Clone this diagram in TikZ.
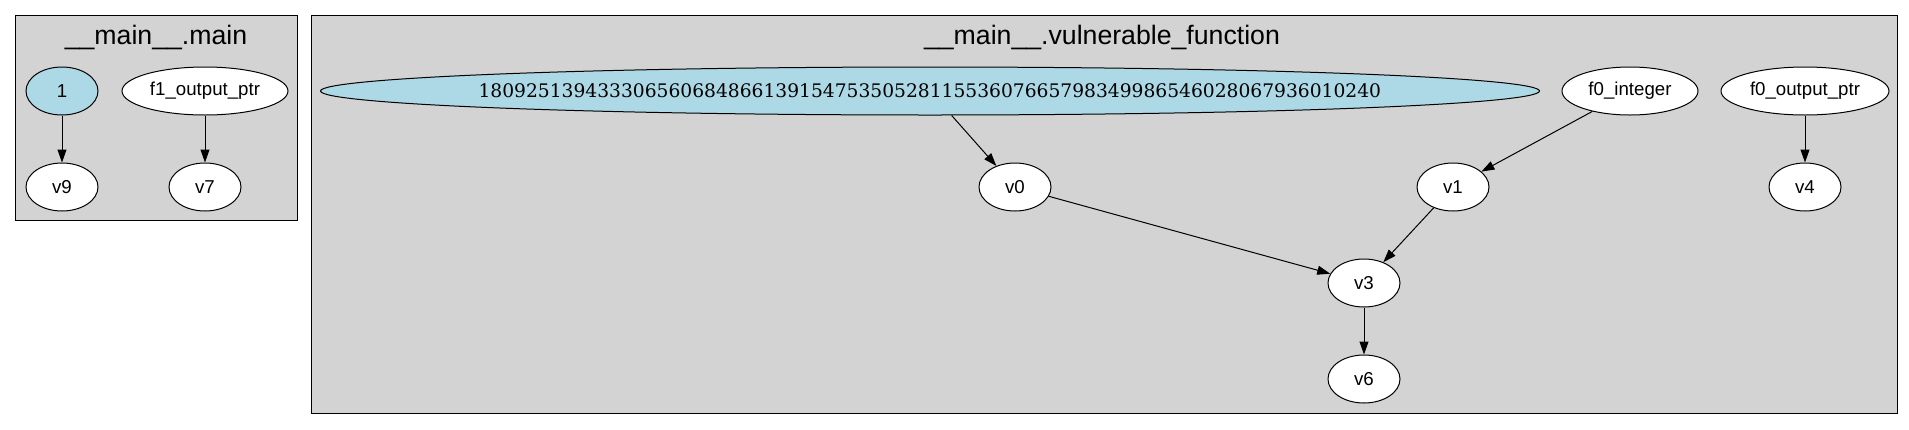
\documentclass[tikz,border=0pt]{standalone}
\usepackage{fontspec}
\setmainfont{Liberation Sans}
\newfontfamily\numfont{DejaVu Serif}
\usetikzlibrary{arrows.meta,shapes.geometric}
\definecolor{clustergray}{HTML}{D3D3D3}
\definecolor{constblue}{HTML}{ADD8E6}

\begin{document}
\begin{tikzpicture}[x=1pt, y=-1pt,
	every node/.style={font=\fontsize{18.67}{22}\selectfont},
	vnode/.style={ellipse, draw, fill=white, line width=1pt, inner sep=0pt, minimum width=72pt, minimum height=48pt},
	cnode/.style={vnode, fill=constblue},
	cluster/.style={draw, fill=clustergray, line width=1pt},
	ctitle/.style={anchor=base, font=\fontsize{26.67}{30}\selectfont},
	flow/.style={-{Triangle[length=13pt,width=9pt]}, line width=1pt}]

% page
\fill[white] (0,0) rectangle (1909,429);

% cluster __main__.main
\draw[cluster] (15,15) rectangle (297,220);
\node[ctitle] (tmain) at (156,44) {\_\_main\_\_.main};

\node[cnode] (one) at (62,91) {1};
\node[vnode, minimum width=166pt] (f1out) at (205,91) {f1\_output\_ptr};
\node[vnode] (v9) at (62,187) {v9};
\node[vnode] (v7) at (205,187) {v7};

\draw[flow] (one) -- (v9);
\draw[flow] (f1out) -- (v7);

% cluster __main__.vulnerable_function
\draw[cluster] (311,15) rectangle (1897,413);
\node[ctitle] (tvuln) at (1102,44) {\_\_main\_\_.vulnerable\_function};

\node[cnode, inner xsep=-30pt, minimum width=1219pt] (big) at (930,91)
	{\numfont 1809251394333065606848661391547535052811553607665798349986546028067936010240};
\node[vnode, minimum width=136pt] (f0int) at (1630,91) {f0\_integer};
\node[vnode, minimum width=168pt] (f0out) at (1805,91) {f0\_output\_ptr};
\node[vnode] (v0) at (1015,187) {v0};
\node[vnode] (v1) at (1453,187) {v1};
\node[vnode] (v4) at (1805,187) {v4};
\node[vnode] (v3) at (1364,283) {v3};
\node[vnode] (v6) at (1364,379) {v6};

% edges
\draw[flow] (big) -- (v0);
\draw[flow] (f0int) -- (v1);
\draw[flow] (f0out) -- (v4);
\draw[flow] (v0) -- (v3);
\draw[flow] (v1) -- (v3);
\draw[flow] (v3) -- (v6);

\end{tikzpicture}
\end{document}
